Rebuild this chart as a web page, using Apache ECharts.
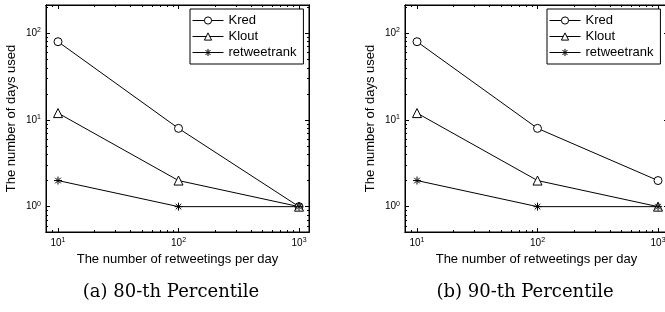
<!DOCTYPE html>
<html>
<head>
<meta charset="utf-8">
<script src="https://cdn.jsdelivr.net/npm/echarts@6/dist/echarts.min.js"></script>
<style>
html,body{margin:0;padding:0;background:#fff;}
#c{width:665px;height:312px;}
</style>
</head>
<body>
<div id="c"></div>
<script>
// ---- data ----
const xValues = [10, 100, 1000];
const seriesNames = ['Kred', 'Klout', 'retweetrank'];
const kred80 = [80, 8, 1];
const klout80 = [12, 2, 1];
const rt80 = [2, 1, 1];
const kred90 = [80, 8, 2];
const klout90 = [12, 2, 1];
const rt90 = [2, 1, 1];
const xMajorTicks = [10, 100, 1000];
const xMinorTicks = [8, 9, 20, 30, 40, 50, 60, 70, 80, 90, 200, 300, 400, 500, 600, 700, 800, 900];
const yMajorTicks = [1, 10, 100];
const yMinorTicks = [0.6, 0.7, 0.8, 0.9, 2, 3, 4, 5, 6, 7, 8, 9, 20, 30, 40, 50, 60, 70, 80, 90, 200];
const xTitle = 'The number of retweetings per day';
const yTitle = 'The number of days used';
const captions = ['(a) 80-th Percentile', '(b) 90-th Percentile'];

// ---- layout ----
const X_MIN = 7.95, X_MAX = 1210, Y_MIN = 0.51, Y_MAX = 212;
const grids = [
  {left: 46, top: 5, width: 263, height: 227},
  {left: 405, top: 5, width: 263, height: 227}
];
const FONT = 'Liberation Sans, Arial, sans-serif';

function powLabel(v) {
  const e = Math.round(Math.log10(v));
  return '{b|10}{e|' + e + '}';
}
const rich = {
  b: {fontSize: 10, fontFamily: FONT, color: '#000'},
  e: {fontSize: 7, fontFamily: FONT, color: '#000', verticalAlign: 'bottom', padding: [0, 0, 6, 0]}
};

function axis(gi, pos, ticks, len, withLabel, extra) {
  const isX = (pos === 'bottom' || pos === 'top');
  return Object.assign({
    type: 'log', gridIndex: gi, position: pos,
    min: isX ? X_MIN : Y_MIN, max: isX ? X_MAX : Y_MAX,
    axisLine: {show: true, onZero: false, lineStyle: {color: '#000', width: 1}},
    axisTick: {show: true, inside: true, length: len, customValues: ticks, lineStyle: {color: '#000', width: 1}},
    axisLabel: withLabel ? {show: true, customValues: ticks, formatter: powLabel, rich: rich, margin: 5} : {show: false},
    splitLine: {show: false},
    minorTick: {show: false}
  }, extra || {});
}

const xAxes = [], yAxes = [];
grids.forEach((g, gi) => {
  xAxes.push(axis(gi, 'bottom', xMajorTicks, 4, true, {
    name: xTitle, nameLocation: 'middle', nameGap: 20,
    nameTextStyle: {fontSize: 13, fontFamily: FONT, color: '#000'}
  }));
  xAxes.push(axis(gi, 'top', xMajorTicks, 4, false));
  xAxes.push(axis(gi, 'bottom', xMinorTicks, 2, false));
  xAxes.push(axis(gi, 'top', xMinorTicks, 2, false));
  yAxes.push(axis(gi, 'left', yMajorTicks, 4, true, {
    name: yTitle, nameLocation: 'middle', nameGap: 28, nameRotate: 90,
    nameTextStyle: {fontSize: 13, fontFamily: FONT, color: '#000'}
  }));
  yAxes.push(axis(gi, 'right', yMajorTicks, 4, false));
  yAxes.push(axis(gi, 'left', yMinorTicks, 2, false));
  yAxes.push(axis(gi, 'right', yMinorTicks, 2, false));
});

const STAR = 'path://M5,0L5,10M0,5L10,5M1.5,1.5L8.5,8.5M1.5,8.5L8.5,1.5';
const styles = {
  Kred: {symbol: 'circle', symbolSize: 8, fill: '#fff'},
  Klout: {symbol: 'triangle', symbolSize: 9, fill: '#fff'},
  retweetrank: {symbol: STAR, symbolSize: 8, fill: '#000'}
};
const panelData = [
  {Kred: kred80, Klout: klout80, retweetrank: rt80},
  {Kred: kred90, Klout: klout90, retweetrank: rt90}
];
const series = [];
panelData.forEach((pd, gi) => {
  seriesNames.forEach(name => {
    const st = styles[name];
    series.push({
      type: 'line', name: name,
      xAxisIndex: gi * 4, yAxisIndex: gi * 4,
      data: xValues.map((x, i) => [x, pd[name][i]]),
      symbol: st.symbol, symbolSize: st.symbolSize, showSymbol: true,
      itemStyle: {color: st.fill, borderColor: '#000', borderWidth: 1},
      lineStyle: {color: '#000', width: 1},
      emphasis: {disabled: true},
      animation: false
    });
  });
});

const legends = grids.map((g, gi) => ({
  orient: 'vertical',
  left: 190 + gi * 357, top: 9,
  data: seriesNames,
  backgroundColor: '#fff',
  borderColor: '#000', borderWidth: 1,
  padding: [5, 7, 5, 2],
  itemWidth: 31, itemHeight: 9, itemGap: 3,
  itemStyle: {borderWidth: 1, borderColor: '#000'},
  lineStyle: {width: 1, color: '#000'},
  textStyle: {fontSize: 13, fontFamily: FONT, color: '#000'},
  selectedMode: false
}));

const chart = echarts.init(document.getElementById('c'), null, {renderer: 'canvas'});
chart.setOption({
  animation: false,
  backgroundColor: '#fff',
  grid: grids.map(g => Object.assign({
    containLabel: false, outerBoundsMode: 'none',
    show: true, borderColor: '#000', borderWidth: 1, backgroundColor: 'transparent'
  }, g)),
  xAxis: xAxes,
  yAxis: yAxes,
  legend: legends,
  series: series,
  graphic: [
    {type: 'text', x: 171, y: 292, style: {text: captions[0], font: '18px "DejaVu Serif", serif', fill: '#000', align: 'center', verticalAlign: 'middle'}},
    {type: 'text', x: 525, y: 292, style: {text: captions[1], font: '18px "DejaVu Serif", serif', fill: '#000', align: 'center', verticalAlign: 'middle'}}
  ]
});
</script>
</body>
</html>
